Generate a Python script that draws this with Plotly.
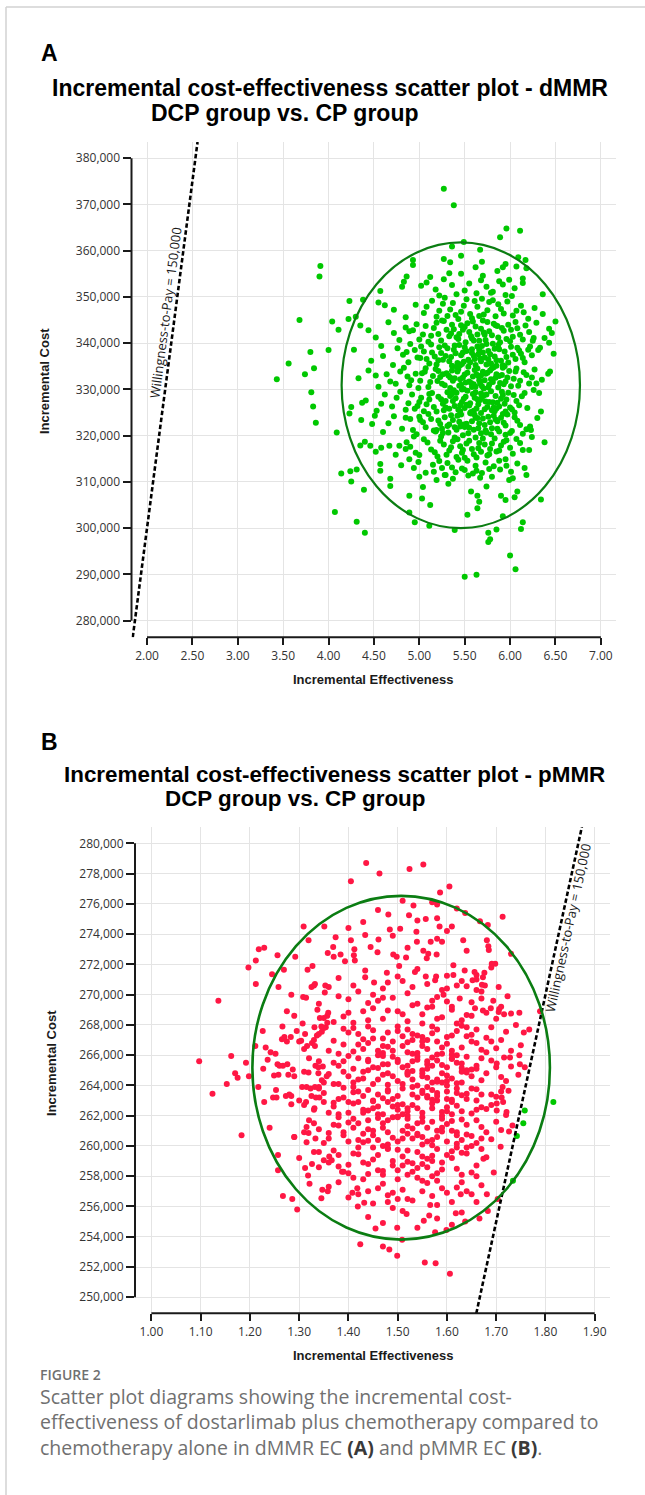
import math
import plotly.graph_objects as go

W, H = 645, 1495

# ---------------- data ----------------
WTP = 150000  # willingness-to-pay threshold

A_xticks = [2.0, 2.5, 3.0, 3.5, 4.0, 4.5, 5.0, 5.5, 6.0, 6.5, 7.0]
A_yticks = [280000, 290000, 300000, 310000, 320000, 330000, 340000, 350000, 360000, 370000, 380000]
B_xticks = [1.0, 1.1, 1.2, 1.3, 1.4, 1.5, 1.6, 1.7, 1.8, 1.9]
B_yticks = [250000, 252000, 254000, 256000, 258000, 260000, 262000, 264000, 266000, 268000,
            270000, 272000, 274000, 276000, 278000, 280000]

# confidence ellipses: centre effectiveness, centre cost, half width, half height
A_ellipse = [5.457, 330900, 1.313, 30900]
B_ellipse = [1.507, 265170, 0.302, 11360]

# panel A simulations (incremental effectiveness, incremental cost in thousands)
A_points = [
 (3.91,356.7),(3.90,354.4),(3.68,345.0),(3.43,332.2),(3.56,335.6),(3.80,338.1),(3.74,333.3),(3.84,334.6),(3.81,329.4),(4.00,338.5),
 (5.27,373.4),(5.38,369.8),(5.96,364.8),(6.11,364.3),(5.89,362.9),
 (5.49,361.9),(5.36,360.9),(5.67,360.2),(5.46,358.9),(5.27,358.2),(5.34,357.5),(5.69,357.6),(6.17,358.0),(6.09,358.6),(4.93,358.0),
 (4.93,356.9),(5.95,357.1),(5.92,356.4),(5.62,356.4),(6.07,356.6),(6.18,356.2),
 (5.33,355.1),(5.46,355.0),(5.70,354.6),(5.86,355.6),(5.99,353.7),(6.14,354.0),(6.14,353.0),(6.36,350.6),(4.86,354.4),(4.83,353.3),
 (4.81,352.2),(4.57,351.3),(4.55,348.8),(4.23,349.1),(4.38,349.4),
 (4.04,344.7),(4.11,342.9),(4.22,345.2),(4.44,342.8),(4.30,345.7),
 (6.50,344.7),(6.43,343.1),(6.46,342.2),(6.36,346.3),(6.43,340.1),(6.48,337.7),(6.44,333.9),(6.42,333.4),(6.31,338.5),(6.22,339.3),(6.26,341.1),
 (6.38,318.6),(6.34,306.2),(6.14,301.3),(6.12,299.8),(6.00,294.1),(6.06,291.1),(5.50,289.5),(5.63,289.9),(5.76,297.0),(5.78,297.6),
 (5.85,299.7),(5.76,299.0),(5.39,299.6),(5.92,302.6),
 (5.11,300.5),(4.95,301.3),(4.89,303.4),(4.89,307.0),(5.03,306.4),(5.12,305.0),(5.04,308.9),(5.53,302.9),(5.57,307.9),(5.64,307.0),
 (5.66,305.7),(5.64,304.3),(5.74,309.0),(5.90,307.0),(5.95,306.1),(6.05,306.7),(6.08,307.9),(5.99,310.4),
 (4.07,303.5),(4.31,301.4),(4.40,299.0),(4.39,308.3),(4.25,310.1),(4.14,311.8),(4.24,312.3),(4.31,312.7),(4.09,320.7),(3.86,322.8),(3.83,326.3),
 (4.57,313.9),(4.68,310.7),(4.52,316.5),(4.35,317.9),(4.40,318.7),(4.46,317.8),(4.78,317.8),(4.36,323.4),(4.23,324.8),(4.25,326.2),
 (4.37,327.1),(4.51,324.3),
 (4.67,317.8),(4.57,312.4),(4.68,309.1),(4.85,317.1),(4.89,314.9),(4.94,319.8),(5.01,323.4),(4.94,313.0),(5.00,311.1),(5.16,312.2),
 (5.19,310.4),(5.28,311.5),(5.32,309.6),(5.37,310.7),(5.50,312.6),(5.54,311.4),(5.62,313.5),(5.69,311.9),(5.80,311.1),(5.89,312.7),
 (5.96,313.5),(6.03,310.8),(6.08,314.0),(6.16,313.0),(6.18,311.5),(6.14,316.9),(6.21,316.9),(6.24,319.7),(6.23,321.2),(6.30,323.8),
 (6.32,329.2),(6.29,331.3),(6.34,325.2),
 (5.02,352.4),(5.18,351.6),(5.27,353.8),(5.55,352.9),(5.63,350.8),(5.74,352.2),(5.81,351.1),(5.95,350.4),(6.05,351.9),(5.41,350.6),
 (5.12,354.3),(5.88,353.4),
 (5.08,353.1),(5.22,350.3),(5.36,352.6),(5.50,351.4),(5.68,353.6),(5.79,350.9),(5.92,352.7),(6.02,350.2),
 (4.72,347.2),(4.85,345.6),(4.96,348.3),(5.05,346.5),(5.14,349.2),(5.22,347.0),(5.31,345.9),(5.37,348.7),(5.46,346.8),(5.52,349.5),
 (5.58,345.4),(5.64,347.9),(5.71,346.2),(5.77,348.9),(5.84,345.8),(5.90,347.4),(5.97,349.0),(6.03,346.0),(6.12,348.1),(6.20,345.3),
 (6.27,347.6),(5.28,349.8),(5.69,349.6),(4.62,348.2),(5.43,345.2),
 (5.08,347.9),(5.19,345.7),(5.34,347.3),(5.49,348.1),(5.56,346.3),(5.61,349.1),(5.75,347.1),(5.81,349.3),(5.93,346.4),(6.07,347.0),
 (5.40,346.1),(5.26,348.5),(5.66,345.9),(5.87,348.4),(6.15,346.7),
 (4.35,343.8),(4.52,341.2),(4.66,344.5),(4.78,340.7),(4.89,342.6),(4.97,344.1),(5.04,341.9),(5.10,340.3),(5.16,343.3),(5.21,342.0),
 (5.27,344.8),(5.33,341.5),(5.38,343.0),(5.43,340.9),(5.48,342.9),(5.53,344.3),(5.58,341.0),(5.62,343.6),(5.66,340.5),(5.71,342.3),
 (5.75,344.6),(5.80,341.7),(5.84,343.9),(5.89,340.2),(5.93,342.7),(5.98,344.0),(6.03,341.4),(6.08,343.2),(6.14,340.8),(6.21,342.4),
 (6.29,344.4),(6.38,341.1),(5.50,343.5),(5.60,340.6),(5.35,342.1),(5.25,344.9),(5.72,341.8),(5.86,343.7),(6.00,340.4),(4.93,342.8),
 (4.72,342.2),(4.85,343.4),(5.00,340.8),(5.07,343.7),(5.13,341.6),(5.19,344.4),(5.24,340.6),(5.30,342.9),(5.36,344.0),(5.41,341.3),
 (5.46,343.9),(5.51,340.2),(5.55,342.4),(5.59,344.7),(5.64,341.9),(5.68,343.1),(5.73,340.7),(5.77,342.6),(5.82,344.2),(5.87,341.2),
 (5.91,343.3),(5.96,340.9),(6.01,342.9),(6.06,344.6),(6.11,341.8),(6.17,343.8),(6.25,340.5),(5.44,342.0),(5.70,344.9),(5.57,341.5),
 (4.28,338.6),(4.47,336.2),(4.58,339.4),(4.71,335.3),(4.82,337.5),(4.90,339.8),(4.98,336.9),(5.05,338.2),(5.11,335.6),(5.17,337.1),
 (5.22,339.1),(5.26,336.4),(5.31,338.9),(5.36,335.1),(5.40,337.8),(5.44,339.6),(5.49,336.0),(5.52,338.3),(5.56,335.8),(5.60,337.3),
 (5.64,339.3),(5.67,336.7),(5.70,338.0),(5.74,335.4),(5.78,337.6),(5.81,339.9),(5.85,336.3),(5.88,338.7),(5.92,335.2),(5.96,337.0),
 (6.01,339.2),(6.06,336.6),(6.10,338.4),(6.16,335.9),(6.24,337.4),(6.33,339.0),(5.47,335.5),(5.58,337.9),(5.68,336.1),(5.83,338.8),
 (5.29,337.2),(5.13,339.7),(5.01,336.8),(4.86,338.1),(5.94,335.0),(6.12,337.7),(5.39,339.5),(5.76,336.5),
 (4.60,337.2),(4.76,338.9),(4.88,335.9),(4.95,338.5),(5.02,339.3),(5.08,336.6),(5.14,338.0),(5.19,335.4),(5.24,337.9),(5.28,339.5),
 (5.33,336.1),(5.38,338.6),(5.42,335.7),(5.46,337.4),(5.50,339.1),(5.54,336.4),(5.58,338.7),(5.62,335.3),(5.65,337.6),(5.69,339.4),
 (5.72,336.9),(5.76,338.3),(5.79,335.6),(5.83,337.1),(5.87,339.6),(5.90,336.2),(5.94,338.2),(5.98,335.8),(6.03,337.5),(6.08,339.0),
 (6.14,336.8),(6.20,338.6),(5.35,337.0),(5.48,338.0),(5.61,336.6),(5.74,339.8),(5.45,335.2),(5.66,338.5),(5.85,335.1),(5.21,336.3),
 (4.33,332.4),(4.44,334.1),(4.55,330.6),(4.64,333.3),(4.74,331.2),(4.83,334.7),(4.91,332.0),(4.99,330.3),(5.06,333.8),(5.12,331.6),
 (5.18,334.4),(5.23,332.7),(5.28,330.9),(5.32,333.0),(5.37,331.9),(5.41,334.9),(5.45,332.2),(5.49,330.1),(5.53,333.6),(5.57,331.4),
 (5.61,334.2),(5.65,332.9),(5.69,330.7),(5.73,333.4),(5.77,331.0),(5.80,334.6),(5.84,332.5),(5.87,330.4),(5.91,333.1),(5.95,331.7),
 (5.99,334.0),(6.04,332.3),(6.09,330.8),(6.15,333.7),(6.21,331.3),(6.27,334.3),(6.35,332.1),(5.51,331.5),(5.63,333.2),(5.71,330.2),
 (5.42,333.9),(5.34,332.6),(5.58,330.5),(5.82,334.8),(5.20,331.8),(5.03,333.5),(4.87,332.8),(5.93,331.1),(6.07,334.5),(5.66,332.0),
 (5.47,330.0),(5.75,333.6),
 (4.52,333.0),(4.68,331.7),(4.79,333.9),(4.89,330.9),(4.96,333.4),(5.01,331.9),(5.07,334.6),(5.10,330.5),(5.15,332.9),(5.21,334.0),
 (5.25,331.2),(5.30,333.5),(5.34,330.3),(5.39,332.4),(5.43,334.4),(5.46,331.0),(5.50,333.2),(5.54,334.9),(5.55,331.7),(5.59,332.8),
 (5.62,330.6),(5.64,334.5),(5.67,331.3),(5.70,333.8),(5.72,332.0),(5.76,330.4),(5.78,334.1),(5.81,331.6),(5.85,333.3),(5.89,331.4),
 (5.92,334.7),(5.97,332.6),(6.01,330.7),(6.06,333.9),(6.11,331.9),(6.18,333.1),(5.36,334.1),(5.48,332.6),(5.60,331.1),(5.68,333.0),
 (5.79,332.2),(5.26,333.3),(5.44,330.8),(5.88,332.9),(6.24,332.6),
 (4.41,327.6),(4.53,325.4),(4.62,328.9),(4.70,326.3),(4.79,329.5),(4.88,327.0),(4.95,325.8),(5.02,328.2),(5.08,326.8),(5.14,329.2),
 (5.19,325.2),(5.24,327.9),(5.29,326.1),(5.34,328.6),(5.38,329.8),(5.43,325.6),(5.47,327.3),(5.51,328.4),(5.55,326.5),(5.59,329.0),
 (5.63,325.9),(5.67,327.7),(5.71,328.7),(5.75,326.2),(5.79,329.6),(5.83,325.3),(5.86,327.1),(5.90,328.0),(5.94,326.9),(5.98,329.3),
 (6.02,325.7),(6.07,327.5),(6.13,328.5),(6.19,326.0),(6.26,329.9),(5.45,326.6),(5.57,325.1),(5.69,328.3),(5.81,327.2),(5.36,329.1),
 (5.27,325.5),(5.11,327.8),(4.98,326.4),(5.92,328.8),(6.05,325.0),(5.62,329.4),(5.52,326.7),(5.73,327.4),(5.40,328.1),(5.85,325.9),
 (4.58,326.9),(4.75,328.2),(4.85,325.6),(4.92,328.9),(5.00,327.3),(5.05,325.3),(5.11,329.0),(5.16,326.2),(5.21,328.4),(5.26,326.9),
 (5.31,329.4),(5.33,325.8),(5.37,327.5),(5.41,329.3),(5.45,325.3),(5.49,328.0),(5.53,329.7),(5.56,327.0),(5.60,325.4),(5.61,328.2),
 (5.65,326.8),(5.68,329.1),(5.72,325.7),(5.74,328.9),(5.77,327.3),(5.80,325.5),(5.84,328.6),(5.88,326.3),(5.91,329.5),(5.96,327.8),
 (6.00,326.1),(6.04,328.8),(6.10,326.6),(6.16,329.2),(5.39,326.4),(5.50,326.0),(5.64,327.9),(5.82,326.1),(5.29,327.5),(5.95,325.2),
 (4.48,322.5),(4.60,320.8),(4.72,324.2),(4.81,321.5),(4.90,323.6),(4.97,320.3),(5.04,322.9),(5.10,324.7),(5.16,321.1),(5.21,323.3),
 (5.26,320.6),(5.31,322.1),(5.35,324.4),(5.39,321.8),(5.44,323.0),(5.48,320.1),(5.52,322.6),(5.56,324.9),(5.60,321.3),(5.64,323.8),
 (5.68,320.5),(5.72,322.3),(5.76,324.1),(5.80,321.6),(5.84,323.5),(5.88,320.9),(5.93,322.8),(5.97,324.6),(6.02,321.0),(6.08,323.2),
 (6.14,320.4),(6.22,322.0),(5.50,321.9),(5.62,323.9),(5.74,320.7),(5.42,324.3),(5.33,322.4),(5.19,321.2),(5.86,323.1),(5.95,320.2),
 (5.66,322.7),(5.57,324.8),
 (4.66,322.7),(4.85,323.9),(4.93,321.2),(5.00,324.1),(5.07,321.8),(5.13,323.6),(5.18,320.9),(5.23,322.5),(5.28,324.0),(5.32,320.7),
 (5.37,323.4),(5.41,321.3),(5.46,324.6),(5.49,322.4),(5.54,320.5),(5.58,323.1),(5.61,324.5),(5.65,321.6),(5.70,323.7),(5.73,321.1),
 (5.78,322.9),(5.82,324.3),(5.86,321.5),(5.90,323.9),(5.95,322.2),(6.00,320.6),(6.05,324.0),(6.11,322.3),(6.18,321.4),(5.45,322.0),
 (5.55,321.7),(5.68,324.9),(5.79,320.3),(5.25,321.5),(5.92,324.7),
 (4.58,317.4),(4.74,315.9),(4.86,318.6),(4.96,316.3),(5.05,319.2),(5.13,317.0),(5.20,315.5),(5.27,318.1),(5.33,316.8),(5.39,319.6),
 (5.45,317.7),(5.50,315.2),(5.55,318.9),(5.60,316.0),(5.65,317.3),(5.70,319.4),(5.75,315.7),(5.80,318.3),(5.85,316.6),(5.90,317.9),
 (5.96,319.0),(6.03,316.1),(6.11,318.4),(5.48,316.9),(5.63,315.3),(5.37,318.8),(5.78,317.1),(5.24,319.8),
 (4.90,317.6),(5.00,315.8),(5.09,318.5),(5.17,316.4),(5.23,318.9),(5.30,315.9),(5.35,317.5),(5.42,319.2),(5.47,316.3),(5.52,318.3),
 (5.58,317.1),(5.62,319.6),(5.68,316.5),(5.72,318.1),(5.77,316.0),(5.83,319.4),(5.88,316.8),(5.93,318.7),(6.00,317.4),(6.07,319.3),
 (5.41,315.4),(5.66,318.4),
 (4.80,313.6),(5.07,312.0),(5.22,314.5),(5.36,313.1),(5.43,314.8),(5.59,311.8),(5.73,314.2),(5.82,313.4),(5.67,310.9),(5.47,312.9),
 (5.29,311.5),(5.95,314.9),
 (4.99,314.3),(5.15,313.7),(5.31,314.1),(5.40,312.1),(5.53,314.6),(5.63,312.4),(5.77,312.8),(5.88,314.6),(6.01,312.2),(5.25,313.0),
]

# panel B simulations (incremental effectiveness, incremental cost in thousands)
B_points = [
 (1.097,265.6),(1.136,269.6),(1.124,263.45),(1.153,264.1),(1.162,265.95),(1.170,264.8),(1.175,264.5),(1.192,265.5),(1.197,271.8),
 (1.198,264.6),(1.212,272.25),(1.212,270.7),(1.218,273.0),(1.229,273.1),(1.211,266.6),(1.226,267.6),(1.232,266.5),(1.242,266.2),
 (1.252,266.1),(1.236,265.7),(1.256,265.4),(1.227,265.1),(1.217,263.9),(1.249,264.65),(1.258,264.7),(1.245,271.35),(1.256,272.6),
 (1.258,270.5),(1.269,271.65),(1.284,270.0),(1.275,268.9),(1.266,267.9),(1.265,267.05),(1.275,266.9),(1.283,267.2),(1.295,267.6),
 (1.307,268.1),(1.292,272.5),(1.309,274.5),(1.319,273.6),(1.330,270.6),(1.308,269.85),(1.312,267.4),(1.267,265.3),(1.287,265.05),
 (1.278,264.7),(1.253,263.7),(1.273,263.3),(1.284,262.75),(1.229,262.9),(1.306,263.9),(1.314,262.9),(1.319,264.85),(1.333,265.3),
 (1.326,266.8),(1.336,267.3),(1.342,268.45),(1.337,269.0),(1.327,271.9),
 (1.325,270.5),(1.314,269.8),(1.304,266.95),(1.276,265.4),(1.254,263.2),(1.284,263.3),(1.247,263.2),(1.315,263.9),(1.323,263.8),
 (1.332,263.9),(1.340,263.9),(1.331,262.5),(1.325,263.3),(1.334,263.2),(1.341,263.2),(1.339,265.2),(1.348,265.25),(1.339,264.8),
 (1.356,264.6),(1.346,264.35),(1.316,266.6),(1.346,267.55),(1.354,267.85),(1.331,267.85),(1.345,267.9),(1.357,268.15),(1.357,268.6),
 (1.332,266.6),(1.359,268.8),(1.353,270.6),(1.352,270.15),(1.317,271.65),(1.332,270.7),
 (1.436,278.7),(1.463,278.0),(1.524,278.3),(1.552,278.6),(1.405,277.5),(1.605,277.15),(1.586,276.75),(1.351,274.5),(1.400,274.4),
 (1.434,273.95),(1.405,273.6),(1.374,273.8),(1.445,273.15),(1.461,273.65),(1.459,272.8),(1.411,272.6),(1.434,271.6),(1.481,275.3),
 (1.510,276.2),(1.532,275.9),(1.523,275.25),(1.540,274.9),(1.557,275.0),(1.585,274.5),(1.580,275.95),(1.484,274.3),(1.539,273.5),
 (1.559,272.4),(1.491,272.65),(1.613,271.95),(1.633,273.6),(1.637,275.4),(1.667,274.85),(1.683,274.6),(1.713,275.15),(1.681,273.6),
 (1.698,272.05),(1.730,272.7),(1.705,270.5),(1.723,269.9),(1.705,268.85),(1.747,268.8),(1.767,267.7),(1.756,267.5),(1.789,268.9),
 (1.747,266.0),(1.728,265.85),(1.758,265.2),(1.745,264.7),
 (1.369,273.15),(1.412,273.0),(1.358,272.75),(1.384,272.65),(1.393,272.2),(1.370,272.5),(1.413,272.25),(1.452,270.8),(1.434,271.15),
 (1.580,275.05),(1.600,274.2),(1.610,274.5),(1.505,274.35),(1.538,274.15),(1.552,272.9),(1.562,272.7),(1.579,272.65),(1.567,273.5),
 (1.590,273.5),(1.498,272.5),(1.517,272.45),(1.503,271.9),(1.478,271.45),(1.535,271.5),(1.684,273.2),(1.685,272.95),(1.691,272.05),
 (1.660,270.3),(1.673,271.15),(1.676,271.45),(1.677,270.6),(1.640,270.55),(1.652,270.95),(1.671,270.65),(1.636,271.6),(1.656,271.5),
 (1.660,271.3),(1.600,271.25),(1.613,271.3),(1.578,271.2),(1.557,271.2),(1.600,270.4),(1.593,270.0),(1.626,269.75),(1.576,270.95),
 (1.716,268.7),(1.730,268.75),(1.706,269.05),(1.689,269.1),(1.694,269.6),(1.673,268.95),(1.657,269.1),(1.716,265.85),(1.701,265.45),
 (1.748,265.4),(1.713,263.9),(1.711,263.2),(1.725,263.65),(1.714,262.9),(1.701,262.8),(1.701,262.35),(1.721,262.25),
 (1.758,262.35),(1.816,262.9),(1.755,261.5),(1.742,260.65),(1.734,257.7),
 (1.183,260.7),(1.267,256.7),(1.286,256.5),(1.296,255.8),(1.290,260.6),(1.257,258.4),(1.257,259.4),(1.312,258.55),(1.318,258.05),
 (1.326,258.8),(1.321,257.5),(1.347,257.1),(1.358,257.0),(1.345,256.55),(1.315,260.25),(1.319,260.85),(1.315,261.25),(1.333,260.5),
 (1.340,259.6),(1.361,259.3),(1.366,259.05),(1.387,258.3),(1.408,256.9),(1.418,257.2),(1.419,256.0),(1.432,256.25),(1.424,253.5),
 (1.455,254.55),(1.470,253.35),(1.483,253.15),(1.499,252.75),(1.509,253.8),(1.499,254.6),(1.518,255.5),(1.555,252.3),(1.577,252.25),
 (1.606,251.55),(1.576,254.3),(1.599,254.45),(1.553,255.05),(1.564,255.4),(1.566,256.1),(1.618,255.55),(1.637,255.0),(1.628,256.8),
 (1.666,255.2),(1.683,255.7),(1.681,256.8),(1.695,258.25),(1.703,256.5),(1.709,259.95),(1.726,260.95),(1.733,261.35),(1.674,259.15),
 (1.46,275.6),(1.57,276.1),(1.62,275.7),(1.43,274.8),(1.52,273.1),(1.64,272.9),(1.49,273.9),(1.58,273.7),
 (1.38,271.1),(1.47,270.4),(1.54,271.7),(1.62,270.6),(1.69,271.8),(1.42,270.2),(1.51,270.9),(1.36,270.5),
 (1.29,268.6),(1.34,269.4),(1.37,268.2),(1.40,269.7),(1.43,268.9),(1.45,269.1),(1.47,268.4),(1.49,269.8),(1.51,268.7),(1.53,269.3),
 (1.55,268.1),(1.57,269.6),(1.59,268.5),(1.61,269.0),(1.63,268.3),(1.65,269.5),(1.68,268.8),(1.71,269.2),(1.74,268.0),(1.39,268.55),
 (1.44,269.45),(1.52,268.25),(1.58,269.85),(1.64,268.65),(1.48,268.95),(1.56,269.15),(1.41,268.15),(1.67,269.75),(1.35,268.45),(1.60,269.55),
 (1.38,269.9),(1.41,270.6),(1.44,268.3),(1.46,269.6),(1.48,270.8),(1.50,268.9),(1.52,270.1),(1.54,269.4),(1.56,270.7),(1.58,268.4),
 (1.59,270.3),(1.61,269.2),(1.63,270.9),(1.65,268.6),(1.67,270.2),(1.70,268.4),(1.45,270.0),(1.50,271.2),(1.55,268.7),(1.62,268.1),
 (1.40,268.8),(1.53,270.5),(1.57,269.2),(1.47,269.8),(1.66,271.0),
 (1.27,267.2),(1.31,266.4),(1.35,267.8),(1.38,266.1),(1.40,267.5),(1.42,266.7),(1.44,267.9),(1.46,266.3),(1.47,267.1),(1.49,266.9),
 (1.50,267.6),(1.52,266.2),(1.53,267.4),(1.55,266.6),(1.56,267.0),(1.58,267.7),(1.59,266.5),(1.61,267.3),(1.62,266.0),(1.64,267.85),
 (1.66,266.8),(1.68,267.15),(1.70,266.45),(1.72,267.55),(1.75,266.65),(1.37,266.95),(1.41,266.25),(1.45,267.65),(1.48,266.55),(1.51,267.25),
 (1.54,266.15),(1.57,267.45),(1.60,266.75),(1.63,267.95),(1.67,266.35),(1.43,267.05),(1.52,266.85),(1.58,266.05),(1.65,267.35),(1.39,267.75),
 (1.47,266.6),(1.55,267.2),(1.61,266.3),(1.69,266.9),(1.33,267.0),
 (1.30,266.9),(1.34,267.4),(1.36,266.3),(1.39,266.7),(1.41,267.8),(1.43,266.4),(1.45,267.1),(1.46,266.0),(1.48,267.5),(1.49,266.3),
 (1.51,266.6),(1.52,267.7),(1.53,266.1),(1.54,267.3),(1.56,266.4),(1.57,267.9),(1.58,266.9),(1.60,267.2),(1.61,266.05),(1.62,267.6),
 (1.63,266.5),(1.65,266.9),(1.66,267.7),(1.68,266.2),(1.71,267.0),(1.73,266.3),(1.44,266.8),(1.50,267.9),(1.55,266.9),(1.59,266.1),
 (1.64,267.25),(1.42,267.4),(1.47,266.15),(1.53,267.0),(1.69,267.85),
 (1.26,265.3),(1.29,264.6),(1.32,265.8),(1.35,264.2),(1.37,265.5),(1.39,264.9),(1.41,265.1),(1.42,264.4),(1.44,265.7),(1.45,264.1),
 (1.47,265.4),(1.48,264.8),(1.49,265.9),(1.50,264.3),(1.51,265.2),(1.52,264.7),(1.53,265.6),(1.54,264.0),(1.55,265.0),(1.56,264.5),
 (1.57,265.85),(1.58,264.25),(1.59,265.35),(1.60,264.65),(1.61,265.75),(1.62,264.15),(1.63,265.45),(1.64,264.85),(1.65,265.05),(1.67,264.35),
 (1.69,265.65),(1.71,264.55),(1.73,265.25),(1.36,264.75),(1.40,265.95),(1.43,264.45),(1.46,265.15),(1.48,264.05),(1.50,265.55),(1.53,264.95),
 (1.55,264.6),(1.57,265.3),(1.59,264.2),(1.61,265.8),(1.63,264.9),(1.66,265.1),(1.38,264.1),(1.44,265.6),(1.52,264.8),(1.56,265.4),
 (1.60,264.3),(1.64,265.0),(1.47,264.7),(1.54,265.7),(1.58,264.4),
 (1.31,264.9),(1.34,265.6),(1.37,264.1),(1.38,265.3),(1.40,264.6),(1.42,265.8),(1.43,264.9),(1.45,265.2),(1.46,264.4),(1.47,265.95),
 (1.49,264.6),(1.50,265.7),(1.51,264.1),(1.52,265.3),(1.53,264.4),(1.54,265.9),(1.55,264.8),(1.56,265.1),(1.57,264.2),(1.58,265.65),
 (1.59,264.8),(1.60,265.2),(1.61,264.45),(1.62,265.5),(1.63,264.2),(1.64,265.9),(1.65,264.6),(1.66,265.3),(1.68,264.8),(1.70,265.2),
 (1.72,264.3),(1.41,264.2),(1.44,265.0),(1.48,265.4),(1.52,264.9),(1.56,265.6),(1.60,264.0),(1.63,265.15),(1.67,265.8),(1.39,265.6),
 (1.28,263.4),(1.31,262.7),(1.34,263.8),(1.36,262.2),(1.38,263.1),(1.40,262.9),(1.42,263.6),(1.43,262.4),(1.45,263.0),(1.46,262.1),
 (1.48,263.7),(1.49,262.6),(1.50,263.3),(1.52,262.0),(1.53,263.9),(1.54,262.5),(1.56,263.2),(1.57,262.8),(1.58,263.5),(1.60,262.3),
 (1.61,263.05),(1.62,262.65),(1.64,263.45),(1.65,262.15),(1.66,263.75),(1.68,262.45),(1.70,263.25),(1.72,262.05),(1.37,262.85),(1.41,263.55),
 (1.44,262.35),(1.47,263.15),(1.51,262.75),(1.55,263.65),(1.59,262.25),(1.63,263.35),(1.67,262.55),(1.39,263.85),(1.45,262.95),(1.50,262.4),
 (1.56,263.3),(1.61,262.1),(1.48,263.6),(1.53,262.7),(1.58,263.0),(1.43,262.2),(1.62,263.8),(1.35,262.9),(1.69,263.4),(1.52,262.3),
 (1.57,263.7),(1.46,262.6),(1.60,263.1),(1.41,262.8),(1.55,263.5),
 (1.30,263.0),(1.33,262.4),(1.35,263.5),(1.37,262.6),(1.39,263.2),(1.40,262.2),(1.42,262.9),(1.44,263.7),(1.45,262.5),(1.46,263.4),
 (1.47,262.1),(1.49,263.1),(1.50,262.7),(1.51,263.8),(1.52,262.5),(1.54,263.2),(1.55,262.2),(1.56,263.9),(1.57,262.5),(1.58,263.3),
 (1.59,262.0),(1.60,263.6),(1.61,262.9),(1.63,262.3),(1.64,263.1),(1.65,263.8),(1.66,262.4),(1.67,263.4),(1.69,262.7),(1.71,263.6),
 (1.38,262.1),(1.43,263.3),(1.48,262.9),(1.53,263.4),(1.57,263.05),(1.62,263.5),(1.66,263.0),(1.41,263.9),(1.51,262.1),(1.60,262.55),
 (1.24,261.2),(1.29,260.6),(1.32,261.7),(1.35,260.2),(1.37,261.4),(1.39,260.9),(1.41,261.8),(1.42,260.4),(1.44,261.1),(1.45,260.7),
 (1.47,261.5),(1.48,260.1),(1.50,261.9),(1.51,260.5),(1.52,261.3),(1.54,260.8),(1.55,261.6),(1.56,260.3),(1.58,261.0),(1.59,260.95),
 (1.60,261.45),(1.62,260.15),(1.63,261.75),(1.65,260.65),(1.67,261.25),(1.69,260.45),(1.71,261.05),(1.36,260.85),(1.40,261.55),(1.43,260.25),
 (1.46,261.85),(1.49,260.55),(1.53,261.15),(1.57,260.05),(1.61,261.65),(1.64,260.75),(1.38,261.35),(1.44,260.35),(1.50,261.95),(1.55,260.6),
 (1.59,261.2),(1.47,260.0),(1.52,261.8),(1.57,260.4),(1.42,261.5),(1.62,260.9),(1.34,261.1),(1.66,260.2),(1.48,261.7),(1.54,260.7),
 (1.31,260.9),(1.33,261.5),(1.36,260.5),(1.38,261.9),(1.40,260.3),(1.41,261.2),(1.43,260.8),(1.44,261.7),(1.46,260.4),(1.47,261.2),
 (1.49,261.9),(1.50,260.3),(1.51,261.0),(1.53,260.5),(1.54,261.5),(1.55,260.1),(1.56,261.2),(1.58,260.6),(1.59,261.8),(1.60,260.3),
 (1.61,261.0),(1.63,260.4),(1.64,261.4),(1.65,260.0),(1.66,261.7),(1.68,260.9),(1.70,261.6),(1.45,261.0),(1.52,260.8),(1.57,261.6),
 (1.62,260.7),(1.39,260.7),(1.48,260.9),(1.55,261.9),(1.67,260.5),
 (1.30,259.2),(1.34,258.6),(1.37,259.7),(1.39,258.3),(1.41,259.5),(1.43,258.9),(1.45,259.1),(1.46,258.4),(1.48,259.8),(1.49,258.7),
 (1.51,259.3),(1.52,258.1),(1.54,259.6),(1.55,258.8),(1.57,259.0),(1.58,258.2),(1.60,259.4),(1.62,258.5),(1.64,259.9),(1.66,258.0),
 (1.68,259.25),(1.38,258.65),(1.42,259.45),(1.47,258.35),(1.50,259.75),(1.53,258.85),(1.56,259.15),(1.59,258.45),(1.63,259.55),(1.44,258.15),
 (1.52,258.95),(1.61,259.65),(1.40,258.75),(1.57,259.35),(1.65,258.25),(1.48,259.85),(1.54,258.55),(1.35,259.05),
 (1.33,259.6),(1.36,258.9),(1.38,259.4),(1.40,258.2),(1.42,259.9),(1.44,258.8),(1.46,259.4),(1.47,258.1),(1.49,259.0),(1.50,258.4),
 (1.52,259.7),(1.53,258.3),(1.55,259.3),(1.56,258.6),(1.58,259.8),(1.59,258.9),(1.61,259.2),(1.63,258.1),(1.64,259.5),(1.66,258.7),
 (1.67,259.8),(1.45,259.9),(1.51,258.7),(1.57,258.0),(1.62,259.9),
 (1.36,257.3),(1.40,256.6),(1.43,257.8),(1.45,256.2),(1.47,257.5),(1.49,256.9),(1.51,257.1),(1.53,256.4),(1.55,257.7),(1.57,256.7),
 (1.59,257.2),(1.61,256.3),(1.63,257.6),(1.65,256.8),(1.67,257.4),(1.44,257.0),(1.50,256.5),(1.54,257.9),(1.58,256.1),(1.62,257.25),
 (1.48,256.75),(1.56,257.55),
 (1.38,257.6),(1.42,256.8),(1.46,257.2),(1.50,257.8),(1.52,256.5),(1.55,257.0),(1.58,257.7),(1.60,256.9),(1.64,257.0),(1.66,256.3),
 (1.48,256.3),(1.41,257.9),
 (1.44,255.3),(1.47,254.9),(1.51,255.7),(1.54,254.6),(1.58,255.2),(1.61,254.8),(1.49,255.9),(1.63,255.6),
]

A_effect = [p[0] for p in A_points]
A_cost = [p[1] * 1000 for p in A_points]
B_effect = [p[0] for p in B_points]
B_cost = [p[1] * 1000 for p in B_points]

# ---------------- layout geometry (pixels) ----------------
A_box = dict(l=131.5, r=616.0, t=142.0, b=637.3)
B_box = dict(l=135.0, r=610.0, t=827.0, b=1313.3)
A_xrange = [1.829, 7.167]
A_yrange = [276400, 383500]
B_xrange = [0.9667, 1.931]
B_yrange = [248940, 281080]


def px(x):
    return x / W


def py(y):
    return 1 - y / H


GREEN = "#00c800"
RED = "#ff1744"
ELL = "#0b7d12"
TICKFONT = dict(family="Open Sans, Noto Sans, sans-serif", size=12, color="#333333")
AXC = "#1a1a1a"
GRID = "#e4e4e4"

fig = go.Figure()

# ---------- panel A ----------
colA = [GREEN if c < WTP * e else RED for e, c in zip(A_effect, A_cost)]
fig.add_trace(go.Scatter(x=A_effect, y=A_cost, mode="markers", xaxis="x", yaxis="y",
                         marker=dict(size=6, color=colA, line=dict(width=0)), hoverinfo="skip"))
fig.add_trace(go.Scatter(x=[A_yrange[0] / WTP, A_yrange[1] / WTP], y=A_yrange, mode="lines",
                         xaxis="x", yaxis="y", line=dict(color="#000000", width=2.6, dash="4.5px,2.5px"),
                         hoverinfo="skip"))

# ---------- panel B ----------
colB = [GREEN if c < WTP * e else RED for e, c in zip(B_effect, B_cost)]
fig.add_trace(go.Scatter(x=B_effect, y=B_cost, mode="markers", xaxis="x2", yaxis="y2",
                         marker=dict(size=6, color=colB, line=dict(width=0)), hoverinfo="skip"))
fig.add_trace(go.Scatter(x=[B_yrange[0] / WTP, B_yrange[1] / WTP], y=B_yrange, mode="lines",
                         xaxis="x2", yaxis="y2", line=dict(color="#000000", width=2.6, dash="4.5px,2.5px"),
                         hoverinfo="skip"))


def axis_common():
    return dict(showgrid=True, gridcolor=GRID, gridwidth=1.2, zeroline=False, showline=False,
                ticks="outside", tickwidth=1.6, tickcolor=AXC, tickfont=TICKFONT, fixedrange=True)


layout = dict(
    width=W, height=H, margin=dict(l=0, r=0, t=0, b=0),
    paper_bgcolor="white", plot_bgcolor="white", showlegend=False,
    xaxis=dict(domain=[px(A_box["l"]), px(A_box["r"])], range=A_xrange, anchor="y",
               tickvals=A_xticks, ticktext=[f"{v:.2f}" for v in A_xticks], ticklen=7, **axis_common()),
    yaxis=dict(domain=[py(A_box["b"]), py(A_box["t"])], range=A_yrange, anchor="x",
               tickvals=A_yticks, ticktext=[f"{v:,}" for v in A_yticks], ticklen=8, **axis_common()),
    xaxis2=dict(domain=[px(B_box["l"]), px(B_box["r"])], range=B_xrange, anchor="y2",
                tickvals=B_xticks, ticktext=[f"{v:.2f}" for v in B_xticks], ticklen=7, **axis_common()),
    yaxis2=dict(domain=[py(B_box["b"]), py(B_box["t"])], range=B_yrange, anchor="x2",
                tickvals=B_yticks, ticktext=[f"{v:,}" for v in B_yticks], ticklen=8, **axis_common()),
)
fig.update_layout(**layout)

shapes = []
# page frame
shapes.append(dict(type="line", xref="paper", yref="paper", x0=px(6), x1=px(6), y0=py(7), y1=0,
                   line=dict(color="#d2d2d2", width=1.5)))
shapes.append(dict(type="line", xref="paper", yref="paper", x0=px(6), x1=1, y0=py(7), y1=py(7),
                   line=dict(color="#d2d2d2", width=1.5)))
# axis lines (span of the tick values)
for xa, ya, xt, yt in (("x", "y", A_xticks, A_yticks), ("x2", "y2", B_xticks, B_yticks)):
    shapes.append(dict(type="line", xref=f"{xa} domain", yref=ya, x0=0, x1=0, y0=yt[0], y1=yt[-1],
                       line=dict(color=AXC, width=2)))
    shapes.append(dict(type="line", xref=xa, yref=f"{ya} domain", x0=xt[0], x1=xt[-1], y0=0, y1=0,
                       line=dict(color=AXC, width=2)))
# ellipses
for xa, ya, e, w in (("x", "y", A_ellipse, 2.2), ("x2", "y2", B_ellipse, 2.6)):
    shapes.append(dict(type="circle", xref=xa, yref=ya, x0=e[0] - e[2], x1=e[0] + e[2],
                       y0=e[1] - e[3], y1=e[1] + e[3], line=dict(color=ELL, width=w)))
fig.update_layout(shapes=shapes)

ann = []
TITLE_FONT = "Liberation Sans, Arial, sans-serif"


def text(x, y, s, size, color="#000000", family=TITLE_FONT, xanchor="left", angle=0):
    ann.append(dict(xref="paper", yref="paper", x=px(x), y=py(y), text=s, showarrow=False,
                    xanchor=xanchor, yanchor="middle", textangle=angle,
                    font=dict(family=family, size=size, color=color)))


# panel letters and titles
text(39, 53, "<b>A</b>", 23)
text(50, 88, "<b>Incremental cost-effectiveness scatter plot - dMMR</b>", 23)
text(149, 113, "<b>DCP group vs. CP group</b>", 23)
text(39, 742, "<b>B</b>", 23)
text(62, 774, "<b>Incremental cost-effectiveness scatter plot - pMMR</b>", 22.4)
text(163, 799, "<b>DCP group vs. CP group</b>", 22.4)

# axis titles
text(373, 679, "<b>Incremental Effectiveness</b>", 13, "#1a1a1a", xanchor="center")
text(45, 381, "<b>Incremental Cost</b>", 13, "#1a1a1a", xanchor="center", angle=-90)
text(373, 1355, "<b>Incremental Effectiveness</b>", 13, "#1a1a1a", xanchor="center")
text(51, 1063, "<b>Incremental Cost</b>", 13, "#1a1a1a", xanchor="center", angle=-90)

# willingness-to-pay labels along the lines
for xa, ya, box, xr, yr, cmid, shift in (("x", "y", A_box, A_xrange, A_yrange, 346600, -10),
                                         ("x2", "y2", B_box, B_xrange, B_yrange, 274400, 8)):
    ppx = (box["r"] - box["l"]) / (xr[1] - xr[0])
    ppy = (box["b"] - box["t"]) / (yr[1] - yr[0])
    ang = math.degrees(math.atan(WTP * ppy / ppx))
    ann.append(dict(xref=xa, yref=ya, x=cmid / WTP, y=cmid, xshift=shift, text=f"Willingness-to-Pay = {WTP:,}",
                    showarrow=False, textangle=-ang, xanchor="center", yanchor="middle",
                    font=dict(family="Open Sans, Noto Sans, sans-serif", size=13, color="#1a1a1a")))

# caption
CAP = "Open Sans, Noto Sans, sans-serif"
ann.append(dict(xref="paper", yref="paper", x=px(38), y=py(1374), text="FIGURE 2", showarrow=False,
                xanchor="left", yanchor="middle", font=dict(family=CAP, size=14, color="#707070", weight=600)))
caption = ("Scatter plot diagrams showing the incremental cost-<br>"
           "effectiveness of dostarlimab plus chemotherapy compared to<br>"
           "chemotherapy alone in dMMR EC <b style='color:#3a3a3a'>(A)</b> and pMMR EC "
           "<b style='color:#3a3a3a'>(B)</b>.")
ann.append(dict(xref="paper", yref="paper", x=px(38), y=py(1422), text=caption, showarrow=False,
                xanchor="left", yanchor="middle", align="left",
                font=dict(family=CAP, size=19.5, color="#707070")))

fig.update_layout(annotations=ann)
fig.write_html("out.html")
